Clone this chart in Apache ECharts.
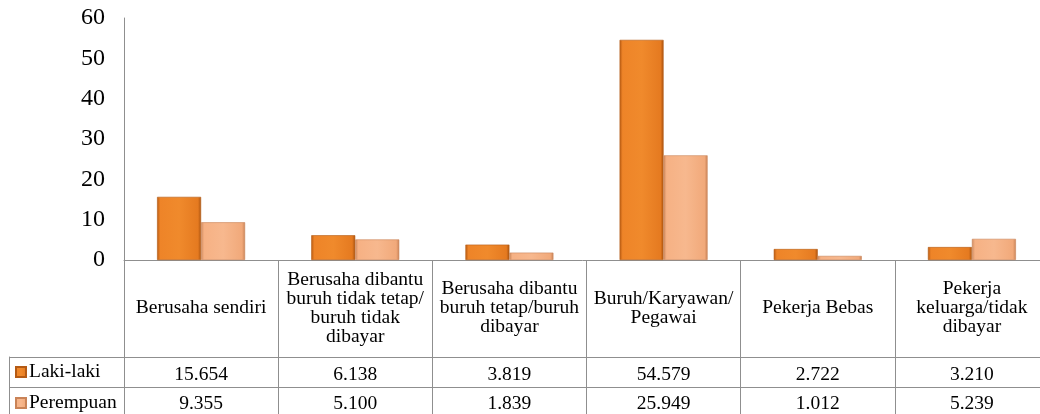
<!DOCTYPE html>
<html>
<head>
<meta charset="utf-8">
<script src="https://cdn.jsdelivr.net/npm/echarts@6/dist/echarts.min.js"></script>
<style>
html,body{margin:0;padding:0;background:#fff;}
#chart{width:1040px;height:414px;}
</style>
</head>
<body>
<div id="chart"></div>
<script>
const categories = [
  'Berusaha sendiri',
  'Berusaha dibantu\nburuh tidak tetap/\nburuh tidak\ndibayar',
  'Berusaha dibantu\nburuh tetap/buruh\ndibayar',
  'Buruh/Karyawan/\nPegawai',
  'Pekerja Bebas',
  'Pekerja\nkeluarga/tidak\ndibayar'
];
const seriesNames = ['Laki-laki', 'Perempuan'];
const lakiLaki = [15.654, 6.138, 3.819, 54.579, 2.722, 3.210];
const perempuan = [9.355, 5.100, 1.839, 25.949, 1.012, 5.239];
const yTicks = { min: 0, max: 60, interval: 10 };

const FONT = 'Liberation Serif';
const LINE = '#8f8f8f';

const orangeFill = new echarts.graphic.LinearGradient(0, 0, 1, 0, [
  { offset: 0, color: '#B85A12' },
  { offset: 0.07, color: '#EE8428' },
  { offset: 0.5, color: '#F08A2C' },
  { offset: 0.93, color: '#E57A20' },
  { offset: 1, color: '#A9520F' }
]);
const peachFill = new echarts.graphic.LinearGradient(0, 0, 1, 0, [
  { offset: 0, color: '#CF8B60' },
  { offset: 0.07, color: '#F6B184' },
  { offset: 0.5, color: '#F7B88E' },
  { offset: 0.93, color: '#F1A97A' },
  { offset: 1, color: '#C98357' }
]);

const chart = echarts.init(document.getElementById('chart'));
chart.setOption({
  animation: false,
  textStyle: { fontFamily: FONT, color: '#000' },
  legend: {
    data: seriesNames,
    orient: 'vertical',
    left: 15,
    top: 362,
    padding: 0,
    itemWidth: 10,
    itemHeight: 10,
    itemGap: 11,
    icon: 'rect',
    textStyle: { fontFamily: FONT, fontSize: 19.5, lineHeight: 19, color: '#000', padding: [0, 0, 0, -2] }
  },
  grid: [
    { left: 124, top: 18, width: 925, height: 242, outerBoundsMode: 'none', containLabel: false },
    { left: 9, top: 357, width: 1040, height: 60, outerBoundsMode: 'none', containLabel: false }
  ],
  xAxis: [
    {
      type: 'category', gridIndex: 0, data: categories, position: 'bottom',
      axisLine: { show: true, lineStyle: { color: LINE, width: 1 } },
      axisTick: { show: true, length: 160, interval: 0, lineStyle: { color: LINE, width: 1 } },
      axisLabel: {
        interval: 0, margin: 48, verticalAlign: 'middle', align: 'center',
        fontFamily: FONT, fontSize: 19.5, lineHeight: 19, color: '#000'
      },
      splitLine: { show: false }
    },
    {
      type: 'category', gridIndex: 0, data: lakiLaki.map(v => v.toFixed(3)), position: 'bottom',
      axisLine: { show: false }, axisTick: { show: false },
      axisLabel: { interval: 0, margin: 115, verticalAlign: 'middle', fontFamily: FONT, fontSize: 19.5, color: '#000' }
    },
    {
      type: 'category', gridIndex: 0, data: perempuan.map(v => v.toFixed(3)), position: 'bottom',
      axisLine: { show: false }, axisTick: { show: false },
      axisLabel: { interval: 0, margin: 144, verticalAlign: 'middle', fontFamily: FONT, fontSize: 19.5, color: '#000' }
    },
    { type: 'value', gridIndex: 1, show: false }
  ],
  yAxis: [
    {
      type: 'value', gridIndex: 0, min: yTicks.min, max: yTicks.max, interval: yTicks.interval,
      axisLine: { show: true, lineStyle: { color: LINE, width: 1 } },
      axisTick: { show: false },
      splitLine: { show: false },
      axisLabel: { margin: 19, fontFamily: FONT, fontSize: 24, color: '#000' }
    },
    {
      type: 'category', gridIndex: 1, data: seriesNames, inverse: true,
      axisLine: { show: true, lineStyle: { color: LINE, width: 1 } },
      axisTick: { show: true, inside: true, length: 1040, interval: 0, lineStyle: { color: LINE, width: 1 } },
      axisLabel: { show: false },
      splitLine: { show: false }
    }
  ],
  series: [
    {
      name: seriesNames[0], type: 'bar', xAxisIndex: 0, yAxisIndex: 0,
      data: lakiLaki, barWidth: 44, barGap: '0%',
      itemStyle: { color: orangeFill, borderColor: '#B45A14', borderWidth: 0.6 }
    },
    {
      name: seriesNames[1], type: 'bar', xAxisIndex: 0, yAxisIndex: 0,
      data: perempuan, barWidth: 44, barGap: '0%',
      itemStyle: { color: peachFill, borderColor: '#C98357', borderWidth: 0.6 }
    }
  ]
});
</script>
</body>
</html>
